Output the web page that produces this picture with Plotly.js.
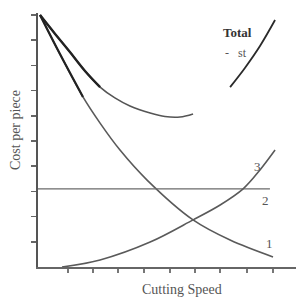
<!DOCTYPE html>
<html>
<head>
<meta charset="utf-8">
<script src="https://cdn.plot.ly/plotly-3.0.1.min.js"></script>
<style>html,body{margin:0;padding:0;background:#fff;}#chart{width:298px;height:297px;}</style>
</head>
<body>
<div id="chart"></div>
<script>
// Curve 1 (decreasing cost)
const c1X = [0.08, 0.86, 1.76, 2.43, 3.21, 4.27, 6.07, 7.52, 9.20];
const c1Y = [10.0, 8.45, 6.75, 5.71, 4.64, 3.45, 1.87, 1.07, 0.40];
// Curve 2 (constant cost)
const c2X = [0.0, 9.08];
const c2Y = [3.10, 3.10];
// Curve 3 (increasing cost)
const c3X = [0.94, 2.43, 4.39, 6.07, 7.13, 8.03, 8.69, 9.28];
const c3Y = [0.0, 0.28, 0.99, 1.87, 2.46, 3.10, 3.85, 4.64];
// Total cost (left part and right part)
const totLX = [0.08, 0.67, 1.25, 1.84, 2.43, 3.01, 3.60, 4.39, 4.97, 5.56, 6.07];
const totLY = [10.0, 9.25, 8.53, 7.78, 7.14, 6.71, 6.39, 6.11, 5.97, 5.95, 6.07];
const totRX = [7.52, 8.10, 8.69, 9.28];
const totRY = [7.14, 7.90, 8.77, 9.80];
const xTicks = [1.17, 2.15, 3.13, 4.15, 5.17, 6.15, 7.13, 8.18, 9.20];
const yTicks = [1, 2, 3, 4, 5, 6, 7, 8, 9, 10];
const curveLabels = ["1", "2", "3"];
const curveLabelX = [9.05, 8.9, 8.6];
const curveLabelY = [0.95, 2.65, 4.0];

const lineGrey = {color: '#5a5a5a', width: 1.6, shape: 'spline'};
const traces = [
  {x: c1X, y: c1Y, mode: 'lines', line: lineGrey, hoverinfo: 'skip'},
  {x: c2X, y: c2Y, mode: 'lines', line: {color: '#6a6a6a', width: 1.4}, hoverinfo: 'skip'},
  {x: c3X, y: c3Y, mode: 'lines', line: lineGrey, hoverinfo: 'skip'},
  {x: totLX, y: totLY, mode: 'lines', line: {color: '#555', width: 1.6, shape: 'spline'}, hoverinfo: 'skip'},
  {x: totRX, y: totRY, mode: 'lines', line: {color: '#2a2a2a', width: 1.8, shape: 'spline'}, hoverinfo: 'skip'},
  {x: c1X.slice(0, 3), y: c1Y.slice(0, 3), mode: 'lines', line: {color: '#222', width: 2.2, shape: 'spline'}, hoverinfo: 'skip'},
  {x: totLX.slice(0, 5), y: totLY.slice(0, 5), mode: 'lines', line: {color: '#222', width: 2.4, shape: 'spline'}, hoverinfo: 'skip'}
];

const serif = 'Liberation Serif, DejaVu Serif, serif';
const annotations = curveLabels.map((t, i) => ({
  x: curveLabelX[i], y: curveLabelY[i], text: t, showarrow: false,
  font: {family: serif, size: 13, color: '#555'}
}));
annotations.push({x: 7.8, y: 9.3, text: '<b>Total</b>', showarrow: false,
  font: {family: serif, size: 13, color: '#333'}});
annotations.push({x: 7.75, y: 8.5, text: '-   st', showarrow: false,
  font: {family: serif, size: 12, color: '#555'}});
// axis titles
annotations.push({xref: 'paper', yref: 'paper', x: (182 - 38) / 258, y: -0.087, yanchor: 'middle',
  text: 'Cutting Speed', showarrow: false, font: {family: serif, size: 14, color: '#555'}});
annotations.push({xref: 'paper', yref: 'paper', x: -0.089, xanchor: 'center', y: (267 - 130) / 254, yanchor: 'middle',
  text: 'Cost per piece', textangle: -90, showarrow: false, font: {family: serif, size: 14, color: '#555'}});

const layout = {
  width: 298, height: 297,
  margin: {l: 38, r: 2, t: 13, b: 30},
  paper_bgcolor: '#fff', plot_bgcolor: '#fff',
  showlegend: false,
  xaxis: {
    range: [0, 10.1], showgrid: false, zeroline: false,
    showline: true, linecolor: '#666', linewidth: 2,
    tickmode: 'array', tickvals: xTicks, showticklabels: false,
    ticks: 'outside', ticklen: 4, tickwidth: 1.5, tickcolor: '#777'
  },
  yaxis: {
    range: [0, 10.08], showgrid: false, zeroline: false,
    showline: true, linecolor: '#555', linewidth: 2,
    tickmode: 'array', tickvals: yTicks, showticklabels: false,
    ticks: 'outside', ticklen: 5, tickwidth: 1.5, tickcolor: '#666'
  },
  annotations: annotations
};

Plotly.newPlot('chart', traces, layout, {displayModeBar: false, staticPlot: true});
</script>
</body>
</html>
